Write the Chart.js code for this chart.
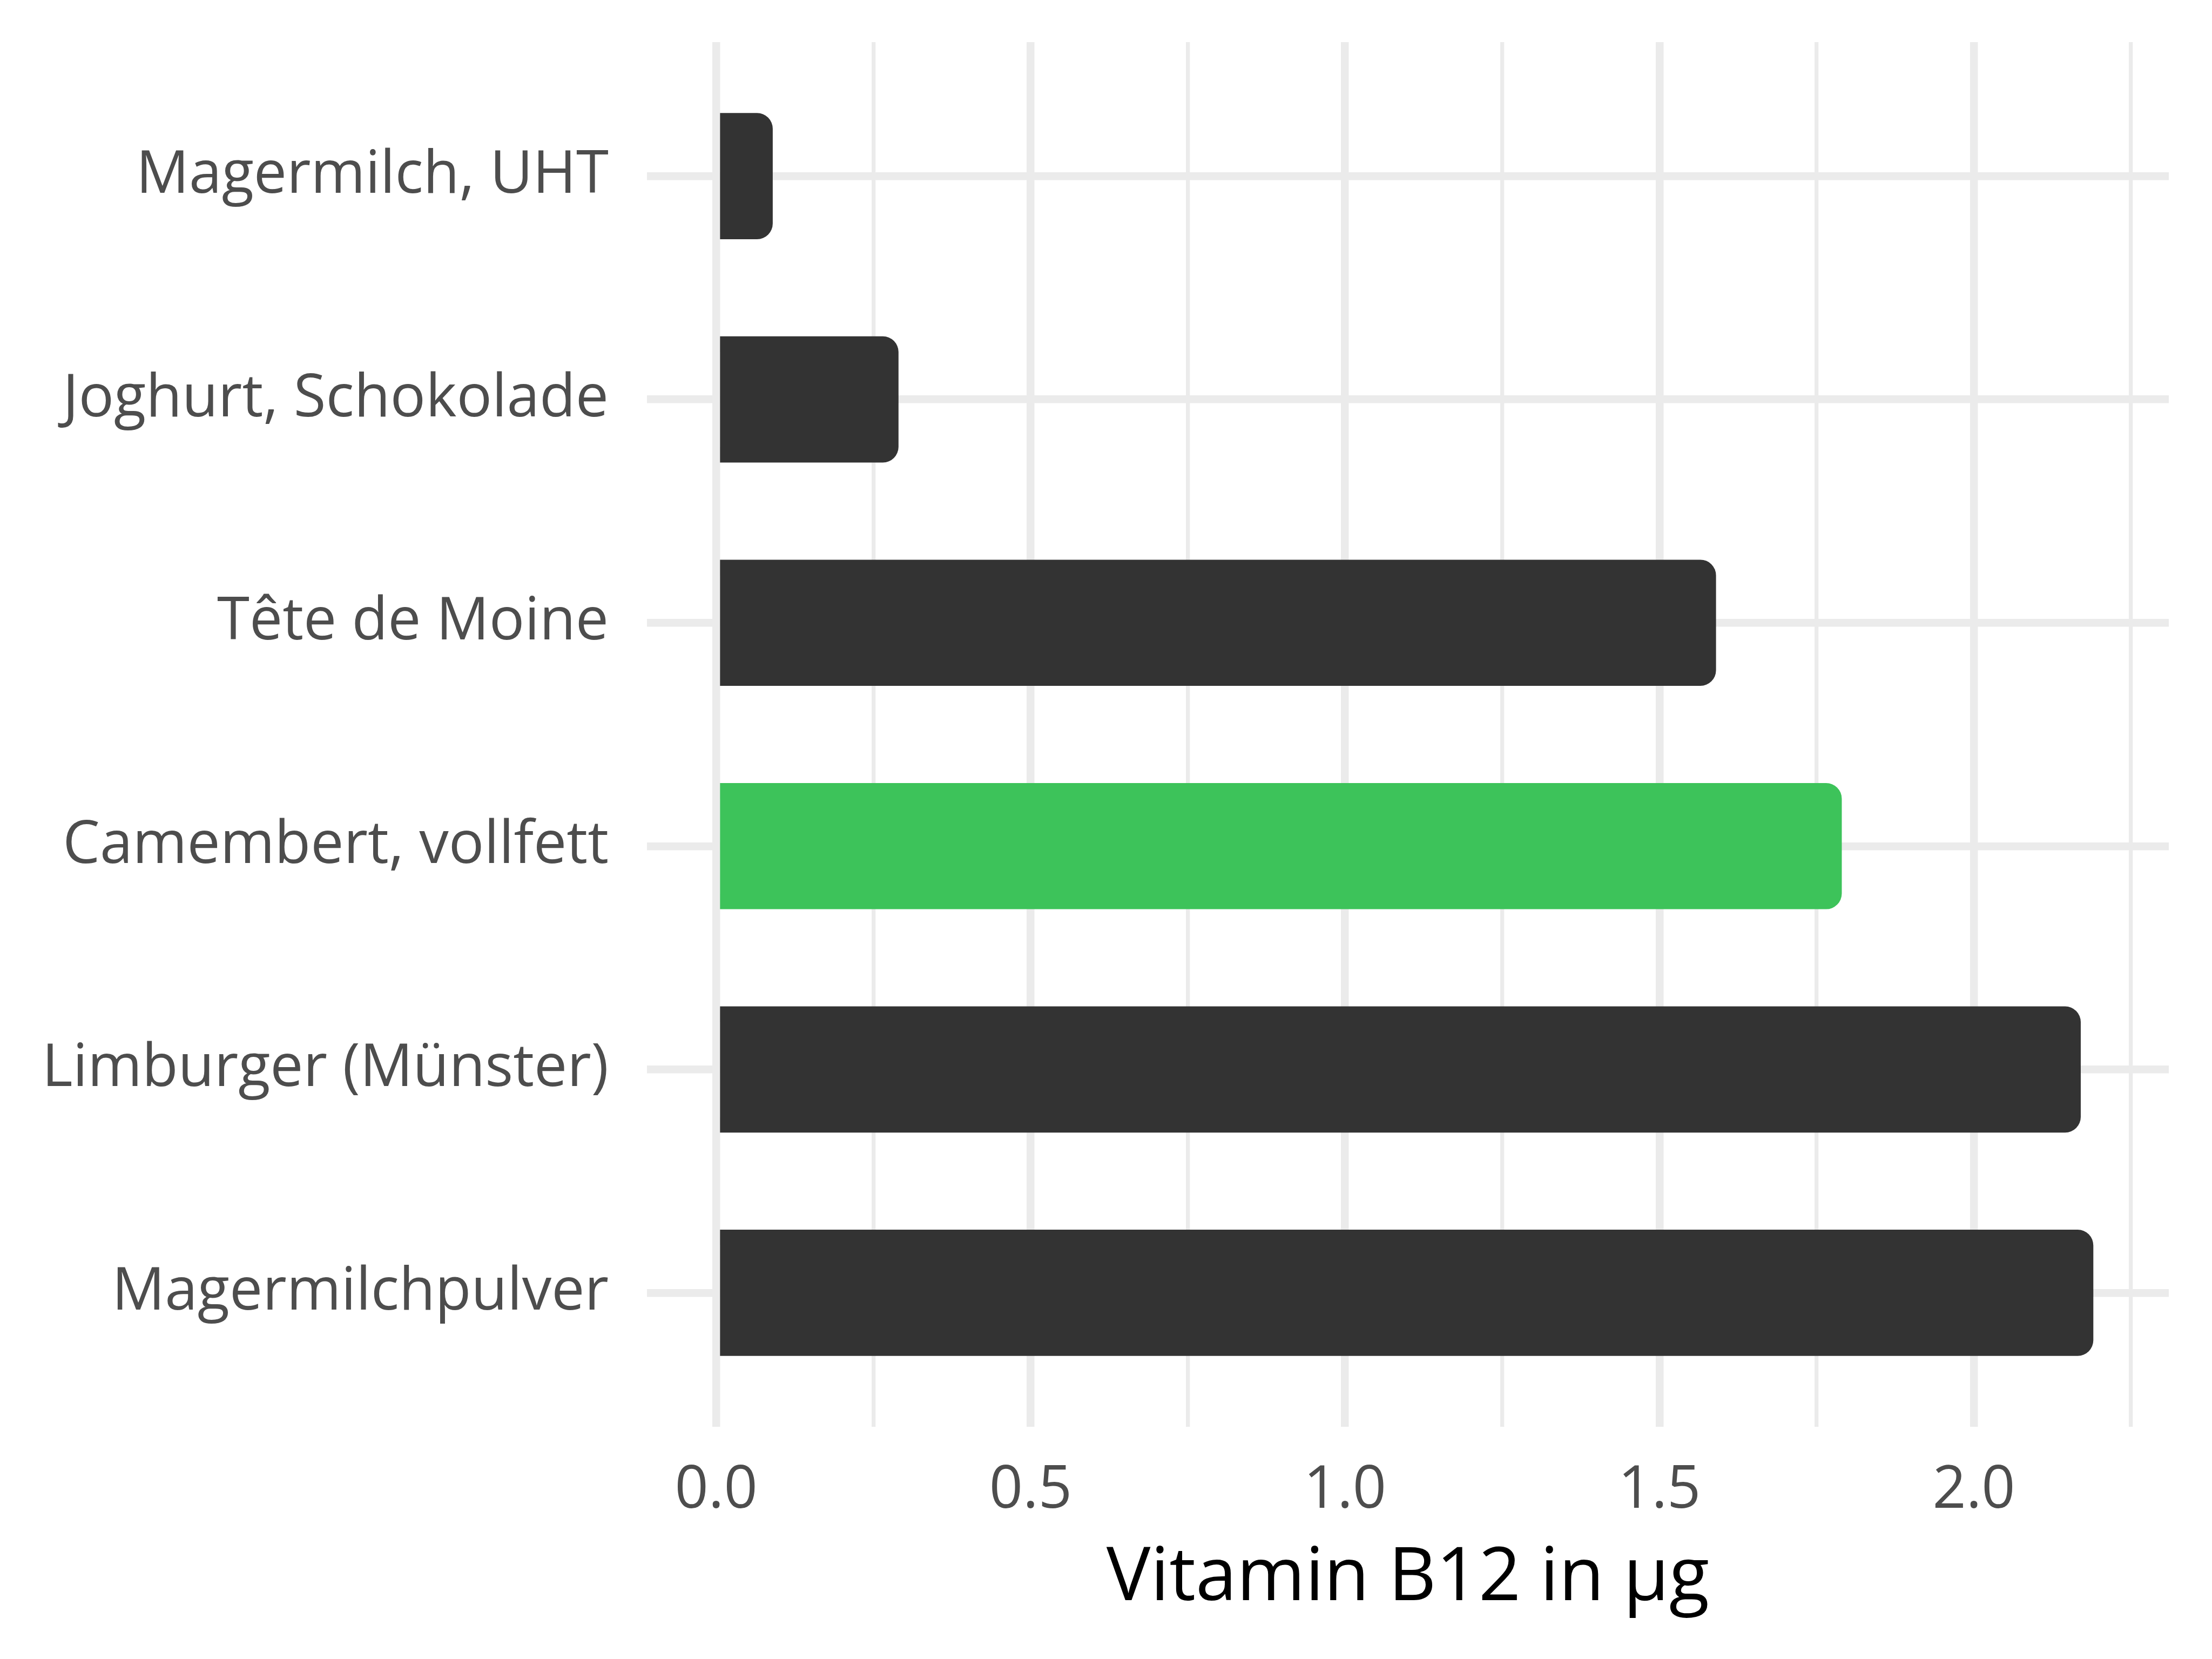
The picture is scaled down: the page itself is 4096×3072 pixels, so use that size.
<!DOCTYPE html>
<html lang="de">
<head>
    <meta charset="UTF-8">
    <title>Vitamin B12</title>
    <script src="https://cdn.jsdelivr.net/npm/chart.js"></script>
    <style>
        html, body { margin: 0; padding: 0; background: #ffffff; }
        canvas { display: block; }
    </style>
</head>
<body>
    <canvas id="grafico_b12" width="4096" height="3072"></canvas>

<script>
    // Werte
    const lebensmittel = [
        'Magermilch, UHT',
        'Joghurt, Schokolade',
        'Tête de Moine',
        'Camembert, vollfett',
        'Limburger (Münster)',
        'Magermilchpulver'
    ];
    const vitaminB12 = [0.09, 0.29, 1.59, 1.79, 2.17, 2.19];
    const hervorgehoben = 'Camembert, vollfett';
    const achsenTitel = 'Vitamin B12 in µg';

    const grau = '#333333';
    const gruen = '#3DC35A';
    const gitter = '#EBEBEB';
    const textGrau = '#4D4D4D';

    const cores = lebensmittel.map(n => n === hervorgehoben ? gruen : grau);

    const ctx = document.getElementById('grafico_b12').getContext('2d');
    new Chart(ctx, {
        type: 'bar',
        data: {
            datasets: [{
                label: achsenTitel,
                data: vitaminB12.map((v, i) => ({ x: v, y: i })),
                backgroundColor: cores,
                borderWidth: 0,
                borderRadius: 29,
                barPercentage: 0.565,
                categoryPercentage: 1
            }]
        },
        options: {
            indexAxis: 'y',
            responsive: false,
            devicePixelRatio: 1,
            animation: false,
            layout: {
                padding: { top: 78, right: 80, bottom: 0, left: 0 }
            },
            plugins: {
                legend: { display: false },
                tooltip: { enabled: false }
            },
            scales: {
                x: {
                    type: 'linear',
                    min: -0.11,
                    max: 2.31,
                    border: { display: false },
                    grid: {
                        color: gitter,
                        drawTicks: false,
                        lineWidth: c => (c.tick && Math.abs(c.tick.value * 2 - Math.round(c.tick.value * 2)) < 1e-6) ? 14.5 : 7.3
                    },
                    ticks: {
                        stepSize: 0.25,
                        includeBounds: false,
                        autoSkip: false,
                        maxRotation: 0,
                        padding: 54,
                        color: textGrau,
                        font: { family: "'Open Sans'", size: 109 },
                        callback: v => Math.abs(v * 2 - Math.round(v * 2)) < 1e-6 ? v.toFixed(1) : ''
                    },
                    title: {
                        display: true,
                        text: achsenTitel,
                        color: '#000000',
                        font: { family: "'Open Sans'", size: 137 },
                        padding: { top: 0, bottom: 66 }
                    },
                    afterFit: s => {
                        s.height = 430;
                        s.paddingLeft = 0;
                        s.paddingRight = 0;
                    }
                },
                y: {
                    type: 'linear',
                    min: -0.6,
                    max: 5.6,
                    reverse: true,
                    offset: false,
                    border: { display: false },
                    grid: {
                        offset: false,
                        color: gitter,
                        lineWidth: 14.5,
                        drawTicks: false
                    },
                    afterBuildTicks: s => { s.ticks = lebensmittel.map((n, i) => ({ value: i })); },
                    ticks: {
                        autoSkip: false,
                        padding: 71,
                        color: textGrau,
                        font: { family: "'Open Sans'", size: 109 },
                        callback: v => lebensmittel[v]
                    },
                    afterFit: s => {
                        s.width = 1198;
                        s.paddingTop = 0;
                        s.paddingBottom = 0;
                    }
                }
            }
        }
    });
</script>
</body>
</html>
